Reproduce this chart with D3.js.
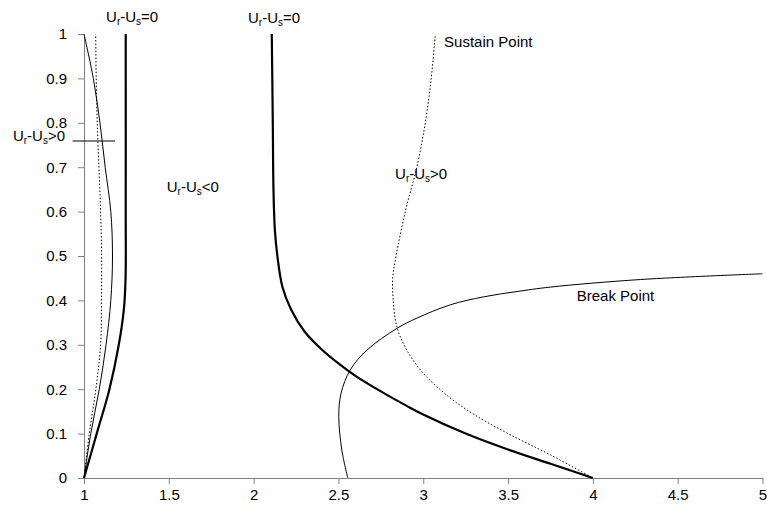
<!DOCTYPE html>
<html>
<head>
<meta charset="utf-8">
<script src="https://cdn.jsdelivr.net/npm/d3@7"></script>
<style>
  body { margin: 0; background: #fff; }
  svg { font-family: "Liberation Sans", Arial, sans-serif; }
  .axis path, .axis line { stroke: #808080; }
  .axis text { font-size: 15px; fill: #000; }
  .label { font-size: 15px; fill: #000; }
</style>
</head>
<body>
<svg width="767" height="514"></svg>
<script>
// Curves, as [x, y]
const leftThick = [[1, 0], [1.075, 0.1], [1.15, 0.2], [1.205, 0.3], [1.235, 0.38], [1.245, 0.45], [1.246, 0.6], [1.246, 1]];
const leftThin = [[1, 0], [1.04, 0.1], [1.09, 0.2], [1.13, 0.3], [1.158, 0.4], [1.168, 0.5], [1.158, 0.6], [1.125, 0.7], [1.094, 0.8], [1.055, 0.9], [1, 1]];
const leftDotted = [[1, 0], [1.031, 0.1], [1.07, 0.2], [1.098, 0.3], [1.103, 0.4], [1.104, 0.5], [1.098, 0.6], [1.088, 0.7], [1.078, 0.8], [1.072, 0.9], [1.069, 1]];
const midThick = [[2.107, 1], [2.113, 0.8], [2.117, 0.65], [2.125, 0.56], [2.14, 0.5], [2.17, 0.43], [2.22, 0.38], [2.3, 0.33], [2.4, 0.29], [2.5, 0.258], [2.6, 0.23], [2.75, 0.195], [2.9, 0.163], [3.0, 0.143], [3.25, 0.1], [3.5, 0.064], [3.75, 0.032], [4, 0]];
const sustain = [[3.07, 0.995], [3.047, 0.9], [3.012, 0.8], [2.962, 0.7], [2.894, 0.6], [2.84, 0.5], [2.82, 0.45], [2.823, 0.4], [2.845, 0.34], [2.903, 0.288], [3.0, 0.236], [3.15, 0.183], [3.3, 0.143], [3.5, 0.1], [3.75, 0.052], [4, 0]];
const breakPt = [[2.555, 0], [2.52, 0.063], [2.502, 0.138], [2.515, 0.19], [2.569, 0.243], [2.668, 0.288], [2.845, 0.337], [2.962, 0.36], [3.159, 0.39], [3.356, 0.408], [3.553, 0.42], [3.75, 0.43], [4.28, 0.447], [5, 0.46]];

const xTicks = [1, 1.5, 2, 2.5, 3, 3.5, 4, 4.5, 5];
const yTicks = [0, 0.1, 0.2, 0.3, 0.4, 0.5, 0.6, 0.7, 0.8, 0.9, 1];

// Region labels U_r-U_s with their sign
const labels = [
  {x: 1.13, y: 1.028, sign: "=0"},
  {x: 1.967, y: 1.025, sign: "=0"},
  {x: 0.581, y: 0.758, sign: ">0"},
  {x: 1.488, y: 0.645, sign: "<0"},
  {x: 2.834, y: 0.673, sign: ">0"}
];
const names = [
  {x: 3.123, y: 0.971, text: "Sustain Point"},
  {x: 3.905, y: 0.399, text: "Break Point"}
];
const leader = [[0.933, 0.759], [1.183, 0.759]];

const svg = d3.select("svg");

const x = d3.scaleLinear().domain([1, 5]).range([84, 762.5]);
const y = d3.scaleLinear().domain([0, 1]).range([478, 34]);

svg.append("g")
  .attr("class", "axis")
  .attr("transform", `translate(0,${y(0)})`)
  .call(d3.axisBottom(x).tickValues(xTicks).tickFormat(d3.format("")).tickSize(6).tickPadding(5).tickSizeOuter(0));

svg.append("g")
  .attr("class", "axis")
  .attr("transform", `translate(${x(1)},0)`)
  .call(d3.axisLeft(y).tickValues(yTicks).tickFormat(d3.format("")).tickSize(6).tickPadding(11).tickSizeOuter(0));

const line = d3.line()
  .x(d => x(d[0]))
  .y(d => y(d[1]))
  .curve(d3.curveCatmullRom.alpha(0.5));

function draw(data, width, dash) {
  svg.append("path")
    .datum(data)
    .attr("fill", "none")
    .attr("stroke", "#000")
    .attr("stroke-width", width)
    .attr("stroke-dasharray", dash)
    .attr("d", line);
}

draw(leftThick, 2.2, null);
draw(leftThin, 1, null);
draw(leftDotted, 1, "1.5,2");
draw(midThick, 2.2, null);
draw(sustain, 1, "1.5,2");
draw(breakPt, 1, null);

svg.append("path")
  .datum(leader)
  .attr("fill", "none")
  .attr("stroke", "#000")
  .attr("stroke-width", 1)
  .attr("d", d3.line().x(d => x(d[0])).y(d => y(d[1])));

// U_r - U_s labels with subscripts
labels.forEach(l => {
  const t = svg.append("text")
    .attr("class", "label")
    .attr("x", x(l.x))
    .attr("y", y(l.y));
  t.append("tspan").text("U");
  t.append("tspan").attr("dy", 3).attr("font-size", 10).text("r");
  t.append("tspan").attr("dy", -3).text("-U");
  t.append("tspan").attr("dy", 3).attr("font-size", 10).text("s");
  t.append("tspan").attr("dy", -3).text(l.sign);
});

svg.selectAll(".name")
  .data(names)
  .enter().append("text")
  .attr("class", "label name")
  .attr("x", d => x(d.x))
  .attr("y", d => y(d.y))
  .text(d => d.text);
</script>
</body>
</html>
